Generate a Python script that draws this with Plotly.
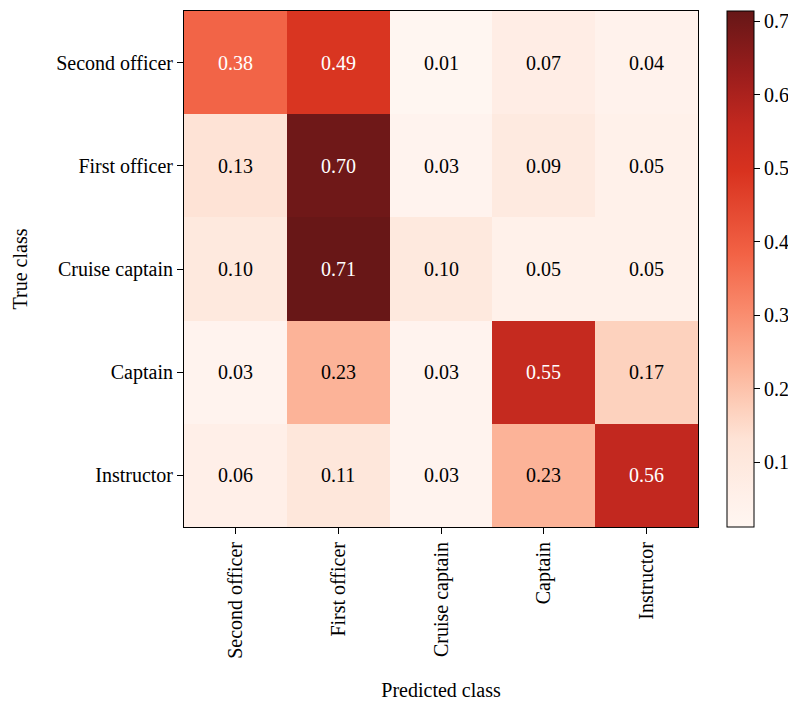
import plotly.graph_objects as go

classes = ["Second officer", "First officer", "Cruise captain", "Captain", "Instructor"]
values = [
    [0.38, 0.49, 0.01, 0.07, 0.04],
    [0.13, 0.70, 0.03, 0.09, 0.05],
    [0.10, 0.71, 0.10, 0.05, 0.05],
    [0.03, 0.23, 0.03, 0.55, 0.17],
    [0.06, 0.11, 0.03, 0.23, 0.56],
]
cbar_ticks = [0.1, 0.2, 0.3, 0.4, 0.5, 0.6, 0.7]

FONT = "Liberation Serif"
reds = [
    [0.0, "#fff6f1"], [0.06, "#fff0e9"], [0.13, "#fee8dd"], [0.17, "#fee3d6"],
    [0.23, "#fdd0bc"], [0.31, "#fcb398"], [0.42, "#f98a6c"], [0.53, "#f26245"],
    [0.69, "#d8321f"], [0.78, "#c2281f"], [0.88, "#9a1d1c"], [1.0, "#661717"],
]
zmin, zmax = 0.012, 0.714

fig = go.Figure(go.Heatmap(
    z=values, x=classes, y=classes, colorscale=reds, zmin=zmin, zmax=zmax,
    xgap=0, ygap=0,
    colorbar=dict(
        x=1.056, xanchor="left", xpad=0, ypad=0, y=0.5, yanchor="middle",
        len=1.0, lenmode="fraction",
        thickness=27, outlinecolor="black", outlinewidth=1,
        tickvals=cbar_ticks, ticktext=[f"{v:.1f}" for v in cbar_ticks],
        ticks="outside", ticklen=6, tickcolor="black",
        tickfont=dict(family=FONT, size=20, color="black"),
    ),
))

thresh = (zmin + zmax) / 2
for i, row in enumerate(values):
    for j, v in enumerate(row):
        fig.add_annotation(
            x=classes[j], y=classes[i], text=f"{v:.2f}", showarrow=False,
            font=dict(family=FONT, size=20, color="white" if v > thresh else "black"),
        )

fig.update_layout(
    width=788, height=693,
    margin=dict(l=176, r=98, t=3, b=174, autoexpand=False),
    paper_bgcolor="white", plot_bgcolor="white",
    font=dict(family=FONT, size=20, color="black"),
)
fig.update_xaxes(
    tickangle=-90, ticks="outside", ticklen=6, tickcolor="black",
    showline=True, linecolor="black", linewidth=1, mirror=True,
    title=dict(text="Predicted class", standoff=25, font=dict(family=FONT, size=20)),
    tickfont=dict(family=FONT, size=20),
)
fig.update_yaxes(
    autorange="reversed", ticks="outside", ticklen=6, tickcolor="black",
    showline=True, linecolor="black", linewidth=1, mirror=True,
    title=dict(text="True class", standoff=23, font=dict(family=FONT, size=20)),
    tickfont=dict(family=FONT, size=20),
)

fig.write_html("out.html")
